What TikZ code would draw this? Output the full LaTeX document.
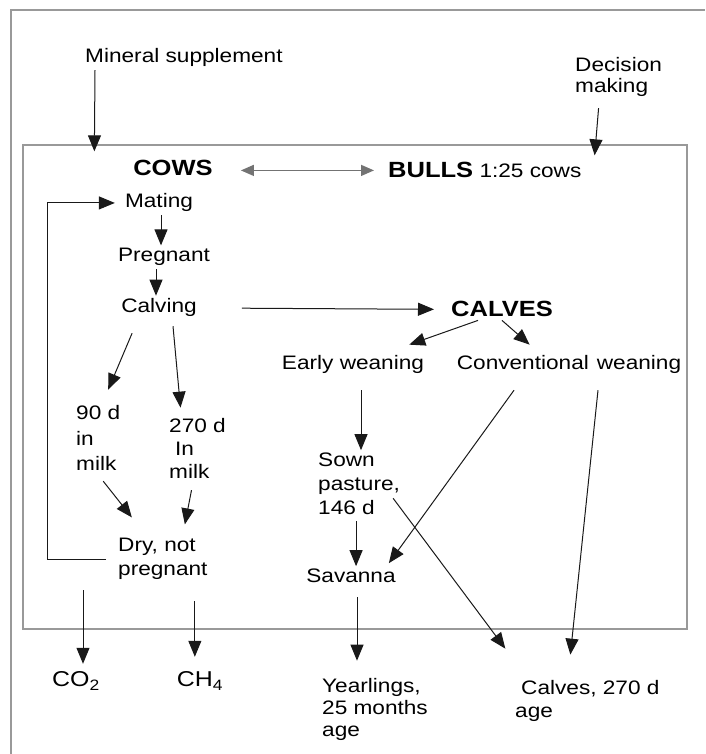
\documentclass[tikz,border=0pt]{standalone}
\usepackage{fontspec}
\setmainfont[FakeStretch=1.16]{Liberation Sans}
\usetikzlibrary{arrows.meta}

\begin{document}
\begin{tikzpicture}[x=1pt,y=1pt,
    txt/.style={inner sep=3pt,text=black,font=\fontsize{19.5}{24}\selectfont},
    big/.style={txt,font=\fontsize{22}{26}\selectfont\bfseries},
    gas/.style={txt,font=\fontsize{21.5}{26}\selectfont},
    arr/.style={-{Triangle[length=16pt,width=13pt]},line width=1pt,black!90},
    duo/.style={{Triangle[length=13pt,width=11pt]}-{Triangle[length=13pt,width=11pt]},line width=1.3pt,black!55},
    frame/.style={draw=black!40,line width=1.3pt}]
    %\draw[help lines,step=50] (0,0) grid (705,754);
    \useasboundingbox (0,0) rectangle (705,754);
    \draw[frame] (11,0) |- (705,744);
    \node[frame,minimum width=664,minimum height=484] (herd) at (355,367) {};

    \node[txt,anchor=base west] (mineral) at (82,691) {Mineral supplement};
    \node[txt,anchor=base west,align=left] (decision) at (572,661) {Decision\\[-3pt]making};

    \node[big,anchor=base] (cows) at (173,578) {COWS};
    \node[txt,anchor=base west] (bulls) at (385,576) {{\fontsize{22}{26}\selectfont\bfseries BULLS} 1:25 cows};
    \node[txt,anchor=base] (mating) at (159,546) {Mating};
    \node[txt,anchor=base] (pregnant) at (164,492) {Pregnant};
    \node[txt,anchor=base] (calving) at (159,441) {Calving};
    \node[big,anchor=base] (calves) at (502,437) {CALVES};
    \node[txt,anchor=base] (early) at (353,384) {Early weaning};
    \node[txt,anchor=base] (conv) at (569,384) {Conventional\hspace{8pt}weaning};
    \node[txt,anchor=base west,align=left] (milka) at (73,283) {90 d\\[1.5pt]in\\[1.5pt]milk};
    \node[txt,anchor=base west,align=left] (milkb) at (166,275) {270 d\\[-1pt]\hspace*{6pt}In\\[-1pt]milk};
    \node[txt,anchor=base west,align=left] (dry) at (115,178) {Dry, not\\pregnant};
    \node[txt,anchor=base west,align=left] (sown) at (315,239) {Sown\\pasture,\\146 d};
    \node[txt,anchor=base] (savanna) at (351,171) {Savanna};

    \node[gas,anchor=base] (co2) at (76,67) {CO\textsubscript{2}};
    \node[gas,anchor=base] (ch4) at (200,67) {CH\textsubscript{4}};
    \node[txt,anchor=base west,align=left] (yearlings) at (319,17) {Yearlings,\\[-2pt]25 months\\[-2pt]age};
    \node[txt,anchor=base west,align=left] (calfsale) at (512,36) {\hspace*{6pt}Calves, 270 d\\[-1pt]age};

    \draw[arr] ([xshift=13pt]mineral.south west) -- ([xshift=72pt,yshift=-7pt]herd.north west);
    \draw[arr] ([xshift=-20pt,yshift=-8pt]decision.south) -- ([xshift=-93pt,yshift=-11pt]herd.north east);
    \draw[duo,shorten <=25pt,shorten >=11pt] (bulls.west -| cows.east) -- (bulls.west);

    \draw[arr,shorten >=7pt] ([xshift=-9pt]dry.west) -- ++(-59,0) |- (mating.west);
    \draw[arr] ([xshift=2pt]mating.south) -- ([xshift=2pt]mating.south |- pregnant.north);
    \draw[arr] ([xshift=-8pt]pregnant.south) -- ([xshift=-8pt]pregnant.south |- calving.north);
    \draw[arr,shorten <=42pt,shorten >=14pt] (calving.east) -- (calves.west);
    \draw[arr] ([xshift=-24pt]calves.south) -- ([xshift=-18pt,yshift=8pt]early.north east);
    \draw[arr] (calves.south) -- ([xshift=76pt,yshift=8pt]conv.north west);

    \draw[arr] ([xshift=14pt,yshift=-13pt]calving.south west) -- ([xshift=10pt,yshift=13pt]milka.north);
    \draw[arr] ([xshift=14pt,yshift=-6pt]calving.south) -- ([xshift=-17pt,yshift=8pt]milkb.north);
    \draw[arr] ([xshift=5pt,yshift=-7pt]milka.south) -- ([xshift=-31pt,yshift=18pt]dry.north);
    \draw[arr] ([xshift=-6pt,yshift=-8pt]milkb.south) -- ([xshift=22pt,yshift=11pt]dry.north);
    \draw[arr,shorten >=5pt] ([xshift=-32pt,yshift=-7pt]dry.south west) coordinate (c1) -- (c1 |- co2.north);
    \draw[arr,shorten >=12pt] ([xshift=32pt,yshift=-18pt]dry.south) coordinate (c2) -- (c2 |- ch4.north);

    \draw[arr] ([xshift=8pt,yshift=-13pt]early.south) coordinate (c3) -- (c3 |- sown.north);
    \draw[arr] ([xshift=-3pt,yshift=-3pt]sown.south) coordinate (c4) -- (c4 |- savanna.north);
    \draw[arr] ([xshift=-55pt,yshift=-13pt]conv.south) -- ([xshift=-10pt,yshift=3pt]savanna.north east);
    \draw[arr] ([xshift=-10pt,yshift=-14pt]sown.east) -- ([xshift=-82pt,yshift=29pt]calfsale.north);
    \draw[arr] ([xshift=29pt,yshift=-13pt]conv.south) -- ([xshift=-17pt,yshift=23pt]calfsale.north);
    \draw[arr,shorten >=15pt] ([xshift=6pt,yshift=-11pt]savanna.south) coordinate (c5) -- (c5 |- yearlings.north);
\end{tikzpicture}
\end{document}
